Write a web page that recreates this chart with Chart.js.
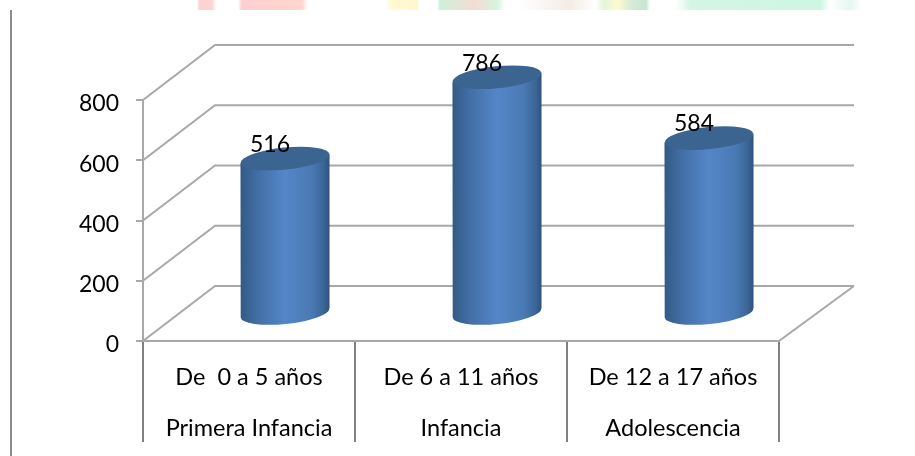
<!DOCTYPE html>
<html>
<head>
<meta charset="utf-8">
<style>
  html, body { margin: 0; padding: 0; background: #fff; }
  #wrap { position: relative; width: 915px; height: 456px; overflow: hidden; }
  /* la referencia es una imagen ampliada, un poco borrosa */
  #chart { position: absolute; left: 0; top: 0; filter: blur(0.55px); }
  /* restos del fondo de la diapositiva */
  #strip {
    position: absolute; left: 0; top: 0; width: 915px; height: 10px;
    background: linear-gradient(90deg,
      #fff 0, #fff 197px, #ffd3d3 199px, #ffd3d3 212px, #fff 216px, #fff 238px,
      #ffcfcf 242px, #ffd6d0 302px, #fff 308px, #fff 385px,
      #fff9d2 392px, #fff7cf 417px, #fff 419px, #fff 437px,
      #cdf0da 440px, #f5dcd2 475px, #d6f3df 497px, #fff 505px, #fff 520px,
      #f3ece4 570px, #fff 595px, #e6f3dc 604px, #fdfbd0 618px, #d9ecd8 630px, #c6e6d3 646px, #fff 650px, #fff 676px,
      #d5f5e5 690px, #cdf6e3 820px, #fff 830px, #e4f8ee 850px, #fff 862px);
  }
  #frame { position: absolute; left: 10px; top: 10px; width: 2px; height: 446px; background: #8c8c8c; }
</style>
</head>
<body>
<div id="wrap">
  <canvas id="chart" width="915" height="456"></canvas>
  <div id="strip"></div>
  <div id="frame"></div>
</div>
<script src="https://cdn.jsdelivr.net/npm/chart.js@4/dist/chart.umd.min.js"></script>
<script>
const categories = [
  ["De  0 a 5 años", "Primera Infancia"],
  ["De 6 a 11 años", "Infancia"],
  ["De 12 a 17 años", "Adolescencia"]
];
const values = [516, 786, 584];
const tickValues = [0, 200, 400, 600, 800];

// Profundidad del falso 3D: pared de fondo y centro de los cilindros
const wallDepth = { x: 72, y: -55 };
const barDepth = { x: 36, y: -27 };
const gridColor = "#a8a8a8";
const fontName = "Lato, 'Open Sans', sans-serif";

// Paredes: diagonal de cada marca y su línea en el fondo
const wallPlugin = {
  id: "wall",
  beforeDatasetsDraw(chart) {
    const { ctx, chartArea, scales } = chart;
    ctx.save();
    ctx.strokeStyle = gridColor;
    ctx.lineWidth = 2;
    tickValues.forEach(v => {
      const y = scales.y.getPixelForValue(v);
      ctx.beginPath();
      ctx.moveTo(chartArea.left, y);
      ctx.lineTo(chartArea.left + wallDepth.x, y + wallDepth.y);
      ctx.lineTo(chartArea.right + wallDepth.x + 3, y + wallDepth.y);
      ctx.stroke();
    });
    const y0 = scales.y.getPixelForValue(0);
    ctx.beginPath();
    ctx.moveTo(chartArea.right, y0);
    ctx.lineTo(chartArea.right + wallDepth.x + 3, y0 + wallDepth.y);
    ctx.stroke();
    ctx.restore();
  }
};

// Cilindros dibujados sobre cada barra, con sus valores encima
const cylinderPlugin = {
  id: "cylinder",
  afterDatasetsDraw(chart) {
    const { ctx } = chart;
    const tilt = -0.1;
    chart.getDatasetMeta(0).data.forEach((bar, i) => {
      const cx = bar.x + barDepth.x;
      const top = bar.y + barDepth.y;
      const bottom = bar.base + barDepth.y;
      const rx = bar.width / 2;
      const ry = 11;
      const sag = rx * Math.sin(-tilt);

      const body = ctx.createLinearGradient(cx - rx, 0, cx + rx, 0);
      body.addColorStop(0, "#335a85");
      body.addColorStop(0.2, "#426fa6");
      body.addColorStop(0.5, "#5486c8");
      body.addColorStop(0.8, "#4a7ab4");
      body.addColorStop(0.94, "#3a6494");
      body.addColorStop(1, "#30527a");

      ctx.save();
      ctx.fillStyle = body;
      ctx.beginPath();
      ctx.moveTo(cx - rx, top + sag);
      ctx.lineTo(cx + rx, top - sag);
      ctx.lineTo(cx + rx, bottom - sag);
      ctx.ellipse(cx, bottom, rx, ry, tilt, 0, Math.PI);
      ctx.closePath();
      ctx.fill();

      ctx.fillStyle = "#3c6491";
      ctx.beginPath();
      ctx.ellipse(cx, top, rx, ry, tilt, 0, Math.PI * 2);
      ctx.fill();

      ctx.fillStyle = "#000";
      ctx.font = "23px " + fontName;
      ctx.textAlign = "center";
      ctx.textBaseline = "middle";
      ctx.fillText(values[i], cx - 15, top - 14);
      ctx.restore();
    });
  }
};

new Chart(document.getElementById("chart"), {
  type: "bar",
  data: {
    labels: categories,
    datasets: [{
      data: values,
      backgroundColor: "transparent",
      barPercentage: 0.42,
      categoryPercentage: 1
    }]
  },
  options: {
    responsive: false,
    animation: false,
    layout: { padding: { top: 100, right: 136, bottom: 0, left: 0 } },
    plugins: { legend: { display: false }, tooltip: { enabled: false } },
    scales: {
      x: {
        grid: { drawOnChartArea: false, color: "#808080", tickLength: 101, lineWidth: 2 },
        border: { color: gridColor, width: 2 },
        ticks: {
          color: "#000",
          padding: -91,
          maxRotation: 0,
          font: { family: fontName, size: 23.5, lineHeight: 2.21 }
        },
        afterFit(scale) { scale.height = 115; }
      },
      y: {
        min: 0,
        max: 800,
        afterBuildTicks(scale) { scale.ticks = tickValues.map(value => ({ value })); },
        grid: { drawOnChartArea: false, color: gridColor, tickLength: 7, lineWidth: 2 },
        border: { color: gridColor, width: 2 },
        ticks: {
          color: "#000",
          padding: 17,
          labelOffset: 4,
          font: { family: fontName, size: 23 }
        },
        afterFit(scale) { scale.width = 143; }
      }
    }
  },
  plugins: [wallPlugin, cylinderPlugin]
});
</script>
</body>
</html>
